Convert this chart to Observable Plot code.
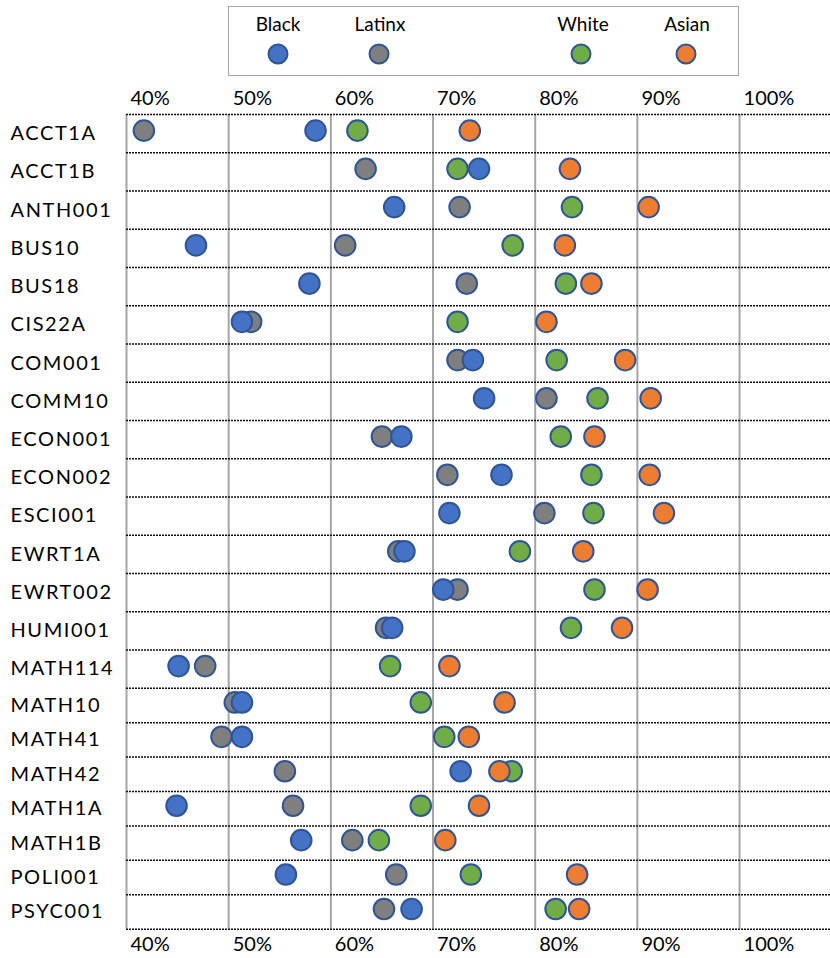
<!DOCTYPE html>
<html>
<head>
<meta charset="utf-8">
<script src="https://cdn.jsdelivr.net/npm/d3@7"></script>
<script src="https://cdn.jsdelivr.net/npm/@observablehq/plot@0.6"></script>
<style>
  body { margin: 0; background: #fff; font-family: Lato, "Open Sans", sans-serif; }
  #topArea { position: relative; width: 830px; height: 80px; }
  #legendBox { position: absolute; left: 228px; top: 6px; width: 511px; height: 70px; box-sizing: border-box; border: 1.6px solid #a6a6a6; }
  .lg-label { position: absolute; font-size: 19px; color: #000; transform: translate(-50%, -50%); white-space: nowrap; }
  .lg-dot { position: absolute; width: 21px; height: 21px; border-radius: 50%; box-sizing: border-box; border: 2px solid #2F5597; transform: translate(-50%, -50%); }
  #chart g[aria-label="y-axis tick label"] text { letter-spacing: 1.6px; }
</style>
</head>
<body>
<div id="topArea"><div id="legendBox"></div></div>
<div id="chart"></div>
<script>
// ---- data ----
const courses = ["ACCT1A","ACCT1B","ANTH001","BUS10","BUS18","CIS22A","COM001","COMM10","ECON001","ECON002","ESCI001","EWRT1A","EWRT002","HUMI001","MATH114","MATH10","MATH41","MATH42","MATH1A","MATH1B","POLI001","PSYC001"];
const black  = [58.5, 74.5, 66.2, 46.8, 57.9, 51.3, 73.9, 75.0, 66.9, 76.7, 71.6, 67.2, 71.0, 66.0, 45.1, 51.3, 51.3, 72.7, 44.9, 57.1, 55.6, 67.9];
const latinx = [41.7, 63.4, 72.6, 61.4, 73.3, 52.2, 72.4, 81.1, 65.0, 71.4, 80.9, 66.6, 72.4, 65.4, 47.7, 50.6, 49.3, 55.5, 56.3, 62.1, 66.4, 65.2];
const white  = [62.6, 72.4, 83.6, 77.8, 83.0, 72.4, 82.1, 86.1, 82.5, 85.5, 85.7, 78.5, 85.8, 83.5, 65.8, 68.8, 71.1, 77.7, 68.8, 64.7, 73.7, 82.0];
const asian  = [73.6, 83.4, 91.1, 82.9, 85.5, 81.1, 88.8, 91.3, 85.8, 91.2, 92.6, 84.7, 91.0, 88.5, 71.6, 77.0, 73.5, 76.5, 74.5, 71.2, 84.1, 84.3];
const groups = ["Black", "Latinx", "White", "Asian"];
const colors = ["#4472C4", "#7F7F7F", "#70AD47", "#ED7D31"];
const xTicks = [40, 50, 60, 70, 80, 90, 100];

// drawing order: Latinx, White, Black, Asian
const seriesOrder = [["Latinx", latinx], ["White", white], ["Black", black], ["Asian", asian]];
const table = seriesOrder.flatMap(([g, vals]) => vals.map((v, i) => ({group: g, course: courses[i], i, value: v})));

// ---- legend (HTML, above the SVG) ----
const topArea = document.getElementById("topArea");
const labelX = [278, 380, 583, 687];
const dotX = [277.5, 379, 580.5, 686];
groups.forEach((g, k) => {
  const lab = document.createElement("div");
  lab.className = "lg-label"; lab.textContent = g;
  lab.style.left = labelX[k] + "px"; lab.style.top = "23px";
  topArea.appendChild(lab);
  const dot = document.createElement("div");
  dot.className = "lg-dot"; dot.style.background = colors[k];
  dot.style.left = dotX[k] + "px"; dot.style.top = "54px";
  topArea.appendChild(dot);
});

// ---- chart ----
const H = 878;
const rowCenters = courses.map((d, i) => i + 0.5);
const chart = Plot.plot({
  width: 830,
  height: H,
  marginLeft: 126,
  marginRight: 0,
  marginTop: 34,
  marginBottom: H - 848.7,
  x: {domain: [40, 108.9]},
  y: {type: "linear", domain: [0, 15, 22], range: [34, 607.7, 848.7]},
  color: {domain: groups, range: colors},
  style: {fontFamily: "Lato, 'Open Sans', sans-serif", fontSize: "20px", color: "#000", background: "#fff"},
  marks: [
    Plot.ruleX(xTicks, {stroke: "#a6a6a6", strokeWidth: 2, strokeOpacity: 1}),
    Plot.ruleY(d3.range(23), {stroke: "#111", strokeDasharray: "2,1", strokeWidth: 1.5, strokeOpacity: 1}),
    Plot.axisX({anchor: "top", ticks: xTicks, tickSize: 0, tickPadding: 3, tickFormat: d => d + "%", textAnchor: "start", dx: 4, dy: -7, label: null, fontSize: 20}),
    Plot.axisX({anchor: "bottom", ticks: xTicks, tickSize: 0, tickPadding: 3, tickFormat: d => d + "%", textAnchor: "start", dx: 4, dy: 5, label: null, fontSize: 20}),
    Plot.axisY({ticks: rowCenters, tickSize: 0, tickPadding: 3, tickFormat: d => courses[Math.floor(d)], textAnchor: "start", dx: -113, label: null, fontSize: 20}),
    Plot.dot(table, {x: "value", y: d => d.i + 0.5, fill: "group", stroke: "#2F5597", strokeWidth: 2, r: 10.3, dy: -3, fillOpacity: 1})
  ]
});
document.getElementById("chart").appendChild(chart);
</script>
</body>
</html>
